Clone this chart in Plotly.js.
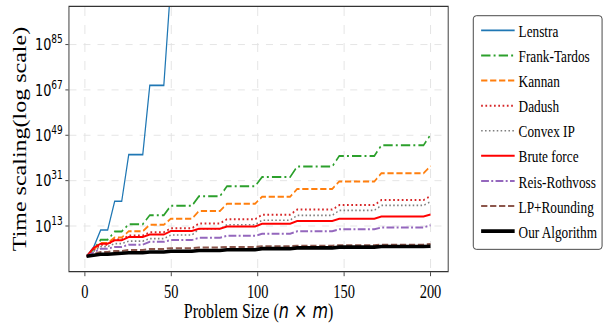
<!DOCTYPE html>
<html><head><meta charset="utf-8">
<script src="https://cdn.plot.ly/plotly-3.0.1.min.js"></script>
<style>
html,body{margin:0;padding:0;overflow:hidden;background:#fff;width:603px;height:323px}
#wrap{width:603px;height:323px;overflow:hidden}
#chart{width:810px;height:323px;transform:scaleX(0.78);transform-origin:0 0}
</style>
</head><body><div id="wrap"><div id="chart"></div></div>
<script>
// Problem size samples (n x m) at which the curves change level
const problemSize = [1, 5.06, 9.12, 13.18, 17.24, 21.31, 25.37, 33.49, 37.55, 45.67, 49.73, 61.92,
  65.98, 78.16, 82.22, 98.47, 102.53, 118.76, 122.80, 143.12, 147.18, 167.49, 171.55, 195.94, 200];

// log10 of time scaling
const lenstraExp     = [1.0, 4.6, 11.4, 11.4, 22.8, 22.8, 41.3, 41.3, 68.8, 68.8, 109, 109, 158, 158, 222, 222, 300, 300, null, null, null, null, null, null, null];
const frankTardosExp = [1.0, 3.8, 7.5, 7.5, 10.8, 10.8, 13.7, 13.7, 17.3, 17.3, 21.0, 21.0, 24.8, 24.8, 28.8, 28.8, 32.4, 32.4, 36.6, 36.6, 40.8, 40.8, 45.0, 45.0, 49.2];
const kannanExp      = [1.0, 3.5, 6.3, 6.3, 8.4, 8.4, 10.9, 10.9, 13.5, 13.5, 15.9, 15.9, 18.9, 18.9, 21.8, 21.8, 24.6, 24.6, 27.7, 27.7, 30.7, 30.7, 33.9, 33.9, 36.8];
const dadushExp      = [1.0, 3.3, 5.6, 5.6, 7.6, 7.6, 9.2, 9.2, 10.5, 10.5, 12.1, 12.1, 14.0, 14.0, 15.7, 15.7, 17.5, 17.5, 19.5, 19.5, 21.3, 21.3, 23.3, 23.3, 24.9];
const convexIPExp    = [1.0, 3.0, 4.8, 4.8, 6.0, 6.0, 7.0, 7.0, 8.0, 8.0, 9.4, 9.4, 11.8, 11.8, 13.5, 13.5, 15.3, 15.3, 17.2, 17.2, 19.2, 19.2, 21.2, 21.2, 22.6];
const bruteForceExp  = [1.0, 4.3, 6.0, 6.0, 7.3, 7.3, 8.6, 8.6, 9.6, 9.6, 11.0, 11.0, 11.9, 11.9, 12.8, 12.8, 13.9, 13.9, 15.0, 15.0, 15.9, 15.9, 16.8, 16.8, 17.6];
const reisRothExp    = [1.0, 2.6, 4.0, 4.0, 4.7, 4.7, 5.6, 5.6, 6.7, 6.7, 7.4, 7.4, 8.3, 8.3, 9.1, 9.1, 9.9, 9.9, 10.9, 10.9, 11.7, 11.7, 12.4, 12.4, 13.3];
const lpRoundExp     = [1.0, 2.0, 2.7, 2.7, 3.1, 3.1, 3.5, 3.5, 3.9, 3.9, 4.2, 4.2, 4.5, 4.5, 4.7, 4.7, 5.0, 5.0, 5.2, 5.2, 5.4, 5.4, 5.6, 5.6, 5.9];
const oursExp        = [1.0, 1.5, 1.8, 1.8, 2.1, 2.1, 2.4, 2.4, 2.7, 2.7, 3.0, 3.0, 3.3, 3.3, 3.6, 3.6, 4.0, 4.0, 4.3, 4.3, 4.6, 4.6, 4.85, 4.85, 4.95];

const xTicks = [0, 50, 100, 150, 200];
const yTickExps = [13, 31, 49, 67, 85];

const toVal = a => a.map(v => v === null ? null : Math.pow(10, v));

const series = [
  {name: 'Lenstra',       y: lenstraExp,     color: '#1f77b4', dash: 'solid',                width: 1.6},
  {name: 'Frank-Tardos',  y: frankTardosExp, color: '#2ca02c', dash: '12px,4px,2.5px,4px',   width: 2},
  {name: 'Kannan',        y: kannanExp,      color: '#ff7f0e', dash: '8px,3.5px',            width: 2},
  {name: 'Dadush',        y: dadushExp,      color: '#d62728', dash: '2.2px,3.3px',          width: 2},
  {name: 'Convex IP',     y: convexIPExp,    color: '#7f7f7f', dash: '2px,3px',              width: 1.6},
  {name: 'Brute force',   y: bruteForceExp,  color: '#ff0000', dash: 'solid',                width: 2},
  {name: 'Reis-Rothvoss', y: reisRothExp,    color: '#9467bd', dash: '10px,3px,2.5px,3px',   width: 2},
  {name: 'LP+Rounding',   y: lpRoundExp,     color: '#8c564b', dash: '8px,3.5px',            width: 2},
  {name: 'Our Algorithm', y: oursExp,        color: '#000000', dash: 'solid',                width: 3.6}
];

const traces = series.map(s => ({
  type: 'scatter', mode: 'lines', name: s.name,
  x: problemSize, y: toVal(s.y),
  line: {color: s.color, dash: s.dash, width: s.width},
  connectgaps: false
}));

const serif = '"Liberation Serif", "Times New Roman", serif';
const sans = '"DejaVu Sans", sans-serif';

// legend frame (rounded box) in paper coordinates
const bx0 = 1.0676, bx1 = 1.408, by0 = 0.082, by1 = 0.967, rx = 0.008, ry = 0.012;
const legendFrame = `M${bx0 + rx},${by1} L${bx1 - rx},${by1} Q${bx1},${by1} ${bx1},${by1 - ry} L${bx1},${by0 + ry} Q${bx1},${by0} ${bx1 - rx},${by0} L${bx0 + rx},${by0} Q${bx0},${by0} ${bx0},${by0 + ry} L${bx0},${by1 - ry} Q${bx0},${by1} ${bx0 + rx},${by1} Z`;

const layout = {
  width: 810, height: 323,
  margin: {l: 89, r: 236, t: 7, b: 52},
  paper_bgcolor: '#fff', plot_bgcolor: '#fff',
  showlegend: true,
  shapes: [{type: 'path', xref: 'paper', yref: 'paper', path: legendFrame,
            fillcolor: '#fff', line: {color: '#333', width: 1}, layer: 'below'}],
  legend: {
    x: 1.078, xanchor: 'left', y: 0.978, yanchor: 'top',
    bgcolor: 'rgba(0,0,0,0)', borderwidth: 0,
    font: {family: serif, size: 17, color: '#000'},
    itemwidth: 43, tracegroupgap: 0
  },
  xaxis: {
    range: [-8.95, 209.95],
    tickvals: xTicks, ticktext: xTicks.map(String),
    ticks: 'outside', ticklen: 4, tickwidth: 1, tickcolor: '#333',
    showline: true, linecolor: '#333', linewidth: 1.2, mirror: true,
    showgrid: true, gridcolor: '#e2e2e2', griddash: 'dash', gridwidth: 1,
    zeroline: false,
    tickfont: {family: serif, size: 18.5, color: '#000'},
    title: {text: 'Problem Size (<span style="font-family:\'DejaVu Sans\'"><i>n</i> × <i>m</i></span>)',
            font: {family: serif, size: 20.5, color: '#000'}, standoff: 10}
  },
  yaxis: {
    type: 'log',
    range: [-4.86, 99.9],
    tickvals: yTickExps.map(e => Math.pow(10, e)),
    ticktext: yTickExps.map(e => '10<sup>' + e + '</sup>'),
    ticks: 'outside', ticklen: 4, tickwidth: 1, tickcolor: '#333',
    showline: true, linecolor: '#333', linewidth: 1.2, mirror: true,
    showgrid: true, gridcolor: '#e2e2e2', griddash: 'dash', gridwidth: 1,
    zeroline: false,
    tickfont: {family: sans, size: 16.5, color: '#000'},
    title: {text: 'Time scaling(log scale)', font: {family: serif, size: 24, color: '#000'}, standoff: 4}
  }
};

Plotly.newPlot('chart', traces, layout, {staticPlot: true, displayModeBar: false});
</script>
</body></html>
